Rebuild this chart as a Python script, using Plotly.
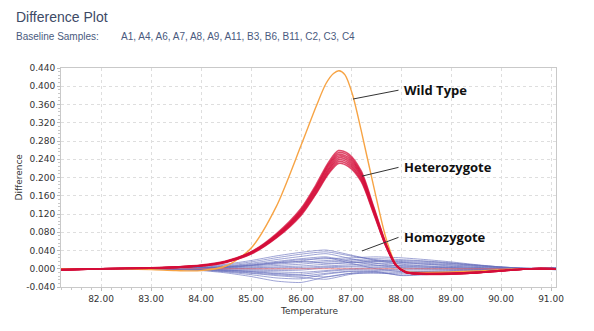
import plotly.graph_objects as go

# ---------------- data ----------------
temps = [81.2, 82.0, 83.0, 83.5, 84.0, 84.5, 85.0, 85.5, 86.0, 86.3, 86.55, 86.75,
         86.95, 87.2, 87.45, 87.7, 87.9, 88.1, 88.4, 89.0, 89.5, 90.0, 90.6, 91.1]

temps_wt = [81.2, 82.0, 83.0, 83.5, 84.0, 84.5, 85.0, 85.5, 86.0, 86.3, 86.5, 86.65, 86.76,
            86.88, 87.03, 87.2, 87.45, 87.7, 87.9, 88.1, 88.4, 89.0, 89.5, 90.0, 90.6, 91.1]
wild_type = [0.0, 0.0, -0.002, -0.004, -0.004, 0.006, 0.045, 0.135, 0.270, 0.355, 0.406, 0.428, 0.434,
             0.425, 0.382, 0.305, 0.182, 0.067, 0.010, -0.006, -0.008, -0.007, -0.005, -0.002, 0.0, 0.0]

het_1 = [-0.003, 0.0, 0.002, 0.004, 0.008, 0.017, 0.037, 0.076, 0.132, 0.184, 0.233, 0.259,
         0.252, 0.215, 0.137, 0.055, 0.009, -0.008, -0.012, -0.012, -0.009, -0.005, 0.0, 0.0]
het_2 = [-0.003, 0.0, 0.002, 0.004, 0.007, 0.016, 0.036, 0.074, 0.129, 0.180, 0.229, 0.255,
         0.248, 0.211, 0.134, 0.054, 0.008, -0.008, -0.011, -0.011, -0.009, -0.005, 0.0, 0.0]
het_3 = [-0.002, 0.0, 0.002, 0.003, 0.007, 0.016, 0.036, 0.073, 0.127, 0.178, 0.226, 0.251,
         0.244, 0.208, 0.132, 0.053, 0.008, -0.008, -0.011, -0.011, -0.009, -0.005, 0.0, 0.0]
het_4 = [-0.003, 0.0, 0.002, 0.004, 0.007, 0.016, 0.035, 0.072, 0.125, 0.175, 0.222, 0.247,
         0.240, 0.205, 0.130, 0.052, 0.008, -0.008, -0.011, -0.011, -0.009, -0.005, 0.0, 0.0]
het_5 = [-0.002, 0.0, 0.001, 0.003, 0.007, 0.015, 0.034, 0.070, 0.123, 0.172, 0.218, 0.243,
         0.236, 0.202, 0.128, 0.051, 0.008, -0.007, -0.011, -0.011, -0.008, -0.004, 0.0, 0.0]
het_6 = [-0.003, 0.0, 0.001, 0.003, 0.006, 0.015, 0.034, 0.069, 0.121, 0.169, 0.215, 0.239,
         0.232, 0.198, 0.126, 0.050, 0.007, -0.008, -0.011, -0.010, -0.008, -0.004, 0.0, 0.0]
het_7 = [-0.002, 0.0, 0.001, 0.003, 0.006, 0.015, 0.033, 0.068, 0.119, 0.166, 0.211, 0.235,
         0.228, 0.195, 0.124, 0.049, 0.007, -0.007, -0.010, -0.010, -0.008, -0.004, 0.0, 0.0]
het_8 = [-0.002, 0.0, 0.001, 0.003, 0.006, 0.014, 0.032, 0.067, 0.117, 0.164, 0.208, 0.231,
         0.224, 0.192, 0.122, 0.049, 0.007, -0.007, -0.010, -0.010, -0.008, -0.004, 0.0, 0.0]
heterozygotes = [het_1, het_2, het_3, het_4, het_5, het_6, het_7, het_8]

temps_b = [81.2, 82.0, 83.0, 84.0, 84.5, 85.0, 85.5, 86.0, 86.5, 87.0, 87.5, 88.0,
           88.5, 89.0, 89.5, 90.0, 90.5, 91.1]
hom_1 = [0, 0, 0.001, 0.004, 0.010, 0.018, 0.028, 0.036, 0.041, 0.030, 0.018, 0.010, 0.006, 0.003, 0.001, 0, 0, -0.002]
hom_2 = [0, 0, 0.001, 0.003, 0.008, 0.015, 0.024, 0.032, 0.037, 0.028, 0.020, 0.014, 0.010, 0.006, 0.003, 0.001, 0, -0.001]
hom_3 = [0, 0, 0, 0.002, 0.006, 0.012, 0.020, 0.027, 0.033, 0.022, 0.012, 0.006, 0.004, 0.002, 0.001, 0, 0, 0.001]
hom_4 = [0, 0, 0, 0.001, 0.004, 0.008, 0.014, 0.020, 0.022, 0.024, 0.026, 0.024, 0.020, 0.015, 0.009, 0.004, 0.001, 0]
hom_5 = [0, 0, 0, 0.001, 0.003, 0.006, 0.010, 0.014, 0.018, 0.020, 0.022, 0.020, 0.017, 0.013, 0.008, 0.004, 0.001, 0.002]
hom_6 = [0, 0, 0, 0.001, 0.002, 0.004, 0.007, 0.010, 0.015, 0.017, 0.018, 0.016, 0.014, 0.011, 0.007, 0.003, 0, -0.002]
hom_7 = [0, 0, 0, 0, 0.001, 0.002, 0.004, 0.006, 0.010, 0.013, 0.015, 0.014, 0.012, 0.009, 0.006, 0.003, 0.001, 0.001]
hom_8 = [0, 0, 0, 0, 0, 0.001, 0.002, 0.003, 0.006, 0.009, 0.011, 0.011, 0.010, 0.008, 0.005, 0.002, 0, -0.001]
hom_9 = [0, 0, 0, 0, 0, -0.001, -0.001, 0, 0.004, 0.006, 0.007, 0.007, 0.006, 0.005, 0.003, 0.001, 0, 0.002]
hom_10 = [0, 0, 0, -0.001, -0.002, -0.003, -0.004, -0.003, 0.002, 0.004, 0.004, 0.004, 0.003, 0.002, 0.001, 0, 0, 0]
hom_11 = [0, 0, 0, -0.001, -0.003, -0.005, -0.007, -0.008, -0.004, 0.0, 0.002, 0.002, 0.001, 0.001, 0, 0, 0, -0.001]
hom_12 = [0, 0, 0, -0.001, -0.003, -0.006, -0.010, -0.012, -0.006, -0.002, -0.001, -0.002, -0.002, -0.002, -0.001, 0, 0, 0.001]
hom_13 = [0, 0, 0, -0.002, -0.005, -0.009, -0.013, -0.016, -0.010, -0.005, -0.004, -0.005, -0.005, -0.004, -0.002, -0.001, 0, 0]
hom_14 = [0, 0, -0.001, -0.003, -0.007, -0.013, -0.020, -0.022, -0.012, -0.006, -0.007, -0.008, -0.007, -0.006, -0.004, -0.002, 0, -0.001]
hom_15 = [0, 0, -0.001, -0.004, -0.009, -0.017, -0.027, -0.030, -0.018, -0.010, -0.010, -0.011, -0.010, -0.008, -0.005, -0.002, 0, 0.001]
hom_16 = [0, 0, -0.001, -0.003, -0.006, -0.010, -0.015, -0.019, -0.023, -0.012, -0.008, -0.014, -0.012, -0.009, -0.006, -0.003, 0, 0]
hom_17 = [0, 0, 0, -0.002, -0.004, -0.007, -0.011, -0.014, -0.018, -0.010, -0.006, -0.015, -0.013, -0.010, -0.006, -0.003, 0, -0.002]
hom_18 = [0, 0, 0, 0.002, 0.005, 0.010, 0.016, 0.022, 0.026, 0.016, 0.008, 0.002, 0.0, -0.001, -0.001, 0, 0, 0.001]
hom_19 = [0, 0, 0, 0.001, 0.003, 0.007, 0.012, 0.017, 0.024, 0.012, 0.0, -0.006, -0.006, -0.005, -0.003, -0.001, 0, 0]
hom_20 = [0, 0, 0, 0.002, 0.004, 0.008, 0.013, 0.016, 0.012, 0.014, 0.016, 0.018, 0.016, 0.012, 0.008, 0.004, 0.001, -0.001]
homozygotes = [hom_1, hom_2, hom_3, hom_4, hom_5, hom_6, hom_7, hom_8, hom_9, hom_10,
               hom_11, hom_12, hom_13, hom_14, hom_15, hom_16, hom_17, hom_18, hom_19, hom_20]

baseline_pink = [0, 0, 0, 0, 0, -0.001, -0.001, -0.001, -0.001, -0.001, 0, 0, 0, 0, 0, 0, 0, 0]

x_ticks = [82, 83, 84, 85, 86, 87, 88, 89, 90, 91]
x_tick_labels = ["82.00", "83.00", "84.00", "85.00", "86.00", "87.00", "88.00", "89.00", "90.00", "91.00"]
y_ticks = [-0.04, 0.0, 0.04, 0.08, 0.12, 0.16, 0.2, 0.24, 0.28, 0.32, 0.36, 0.4, 0.44]
y_tick_labels = ["-0.040", "0.000", "0.040", "0.080", "0.120", "0.160", "0.200", "0.240",
                 "0.280", "0.320", "0.360", "0.400", "0.440"]

baseline_samples = "A1, A4, A6, A7, A8, A9, A11, B3, B6, B11, C2, C3, C4"

# ---------------- figure ----------------
fig = go.Figure()

for ys in homozygotes:
    fig.add_trace(go.Scatter(x=temps_b, y=ys, mode="lines",
                             line=dict(color="rgba(100,108,188,0.62)", width=1, shape="spline", smoothing=0.6),
                             showlegend=False, hoverinfo="skip"))

fig.add_trace(go.Scatter(x=temps_b, y=baseline_pink, mode="lines",
                         line=dict(color="rgba(240,110,110,0.7)", width=1),
                         showlegend=False, hoverinfo="skip"))

fig.add_trace(go.Scatter(x=temps_wt, y=wild_type, mode="lines",
                         line=dict(color="#f7a445", width=1.4, shape="spline", smoothing=0.8),
                         showlegend=False, hoverinfo="skip"))

for ys in heterozygotes:
    fig.add_trace(go.Scatter(x=temps, y=ys, mode="lines",
                             line=dict(color="rgba(212,14,58,0.75)", width=1.6, shape="spline", smoothing=0.8),
                             showlegend=False, hoverinfo="skip"))

label_font = dict(family="Open Sans, Arial, sans-serif", size=13, color="#111111")
for text, (tx, ty), (ax, ay) in [
    ("<b>Wild Type</b>", (87.04, 0.372), (87.98, 0.392)),
    ("<b>Heterozygote</b>", (87.22, 0.203), (87.98, 0.223)),
    ("<b>Homozygote</b>", (87.22, 0.039), (87.98, 0.070)),
]:
    fig.add_annotation(x=tx, y=ty, ax=ax, ay=ay, axref="x", ayref="y", xref="x", yref="y",
                       text="", showarrow=True, arrowhead=0, arrowwidth=1, arrowcolor="#333333")
    fig.add_annotation(x=ax, y=ay, xref="x", yref="y", text=text, showarrow=False,
                       xanchor="left", yanchor="middle", xshift=2, font=label_font)

# titles (given in pixels, converted below)
fig.add_annotation(x=14, y=17, xref="paper", yref="paper", text="Difference Plot", showarrow=False,
                   font=dict(family="Liberation Sans, Arial", size=14, color="#3d4a66"),
                   xanchor="left", yanchor="middle")
fig.add_annotation(x=14, y=37, xref="paper", yref="paper", text="Baseline Samples:", showarrow=False,
                   font=dict(family="Liberation Sans, Arial", size=10, color="#4a5a7e"),
                   xanchor="left", yanchor="middle")
fig.add_annotation(x=119, y=37, xref="paper", yref="paper", text=baseline_samples, showarrow=False,
                   font=dict(family="Liberation Sans, Arial", size=10, color="#4a5a7e"),
                   xanchor="left", yanchor="middle")

W, H = 594, 331
L, R, T, B = 61, 38, 68, 44
pw, ph = W - L - R, H - T - B
for ann in fig.layout.annotations:
    if ann.xref == "paper":
        ann.x = (ann.x - L) / pw
        ann.y = 1 - (ann.y - T) / ph

fig.add_annotation(x=(18 - L) / pw, y=0.5, xref="paper", yref="paper", text="Difference",
                   textangle=-90, showarrow=False, xanchor="center", yanchor="middle",
                   font=dict(family="DejaVu Sans", size=9, color="#333333"))
fig.add_annotation(x=0.5, y=-(311 - (T + ph)) / ph, xref="paper", yref="paper", text="Temperature",
                   showarrow=False, xanchor="center", yanchor="middle",
                   font=dict(family="DejaVu Sans", size=9, color="#333333"))

axis_common = dict(showline=True, linecolor="#c9c9c9", linewidth=1, mirror=True,
                   showgrid=True, gridcolor="#dedede", griddash="dot", gridwidth=1,
                   zeroline=False, ticks="outside", ticklen=3, tickcolor="#bbbbbb",
                   tickfont=dict(family="DejaVu Sans", size=9, color="#333333"))

fig.update_xaxes(range=[81.2, 91.1], tickmode="array", tickvals=x_ticks, ticktext=x_tick_labels,
                 minor=dict(dtick=0.2, tick0=81.0, ticks="outside", ticklen=2, tickcolor="#c8c8c8", showgrid=False),
                 **axis_common)
fig.update_yaxes(range=[-0.04, 0.44], tickmode="array", tickvals=y_ticks, ticktext=y_tick_labels,
                 minor=dict(dtick=0.008, tick0=0.0, ticks="outside", ticklen=2, tickcolor="#c8c8c8", showgrid=False),
                 **axis_common)

fig.update_layout(width=W, height=H, margin=dict(l=L, r=R, t=T, b=B),
                  paper_bgcolor="white", plot_bgcolor="white", showlegend=False)

fig.write_html("out.html")
